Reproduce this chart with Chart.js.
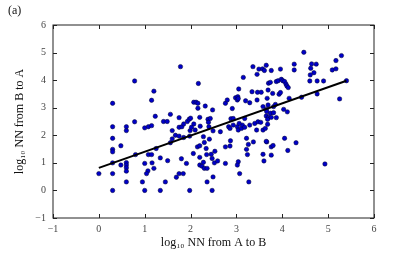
<!DOCTYPE html>
<html lang="en">
  <head>
    <meta charset="UTF-8" />
    <title>NN scatter</title>
    <script src="https://cdn.jsdelivr.net/npm/chart.js"></script>
    <style>
      body {
        margin: 0;
        background: #fff;
      }
      canvas {
        display: block;
      }
    </style>
  </head>
  <body>
    <canvas id="myChart" width="415" height="257"></canvas>

    <script>
      // log10 NN from A to B (x) and from B to A (y)
      const nnAtoB = [
        0.0, 0.3, 0.3, 0.3, 0.3, 0.3, 0.3, 0.3, 0.3, 0.48, 0.48, 0.6, 0.6, 0.6, 0.6, 0.6, 0.6, 0.6,
        0.78, 0.78, 0.8, 1.0, 1.08, 1.15, 1.0, 1.0, 0.95, 1.08, 1.15, 1.16, 1.07, 1.04, 1.2, 1.15,
        1.2, 1.23, 1.25, 1.34, 1.34, 1.41, 1.49, 1.45, 1.5, 1.56, 1.56, 1.6, 1.6, 1.67, 1.69, 1.75,
        1.84, 1.75, 1.75, 1.75, 1.78, 1.8, 1.81, 1.85, 1.85, 1.91, 1.93, 1.97, 2.0, 1.98, 1.99, 2.07,
        2.1, 2.02, 1.98, 2.07, 2.12, 2.16, 2.16, 2.17, 2.2, 2.21, 2.06, 2.2, 2.15, 2.2, 2.28, 2.41,
        2.2, 2.25, 2.3, 2.36, 2.28, 2.32, 2.36, 2.38, 2.43, 2.4, 2.39, 2.48, 2.35, 2.45, 2.53, 2.34,
        2.3, 2.47, 2.49, 2.47, 2.52, 2.59, 2.49, 2.65, 2.76, 2.76, 2.86, 2.87, 2.76, 2.8, 2.83, 2.86,
        2.93, 3.02, 3.04, 3.11, 3.13, 3.18, 2.88, 2.93, 2.91, 2.98, 3.03, 3.02, 3.04, 3.04, 3.02, 3.07,
        3.05, 3.06, 3.15, 3.18, 3.2, 3.29, 3.22, 3.24, 3.26, 3.37, 3.22, 3.27, 3.29, 3.4, 3.47, 3.53,
        3.36, 3.45, 3.49, 3.57, 3.61, 3.65, 3.34, 3.46, 3.54, 3.69, 3.45, 3.44, 3.58, 3.63, 3.58, 3.6,
        3.66, 3.58, 3.65, 3.67, 3.69, 3.66, 3.65, 3.7, 3.68, 3.68, 3.7, 3.74, 3.87, 3.91, 3.98, 4.01,
        4.05, 4.08, 4.1, 4.13, 3.76, 3.96, 3.79, 3.93, 3.96, 3.76, 3.87, 3.74, 3.81, 3.81, 3.85, 4.03,
        4.11, 4.15, 4.42, 4.76, 5.25, 3.65, 4.05, 4.3, 3.76, 3.8, 4.12, 3.76, 4.93, 4.26, 4.26, 4.47,
        5.29, 5.17, 4.64, 4.74, 4.62, 5.09, 5.17, 4.69, 4.61, 4.6, 4.76, 4.9, 5.4
      ];
      const nnBtoA = [
        0.61, 3.16, 2.31, 1.89, 1.49, 1.4, 1.0, 0.61, 0.0, 1.62, 0.92, 2.31, 2.17, 1.01, 0.92, 0.82, 0.7, 0.31,
        3.97, 2.49, 1.3, 2.27, 2.31, 2.35, 0.98, 0.0, 0.31, 1.3, 1.3, 1.0, 0.71, 0.61, 0.8, 3.27,
        3.6, 2.69, 1.52, 1.18, 0.0, 2.5, 2.5, 0.31, 1.08, 2.76, 1.73, 2.17, 1.87, 2.0, 0.48, 0.61,
        0.61, 2.64, 2.29, 1.97, 4.49, 1.15, 2.31, 2.41, 1.92, 0.98, 2.5, 2.58, 2.62, 1.97, 2.17, 2.41,
        2.19, 2.29, 0.0, 3.2, 3.2, 3.16, 2.98, 3.88, 2.65, 2.33, 1.34, 1.2, 1.58, 1.62, 1.95, 1.86,
        0.92, 0.88, 0.8, 0.8, 1.02, 3.06, 0.31, 2.58, 2.61, 2.31, 2.47, 2.92, 1.3, 1.31, 1.42, 1.52,
        1.74, 1.16, 0.49, 0.0, 1.0, 1.07, 2.16, 2.13, 0.98, 1.58, 1.61, 1.8, 3.16, 3.28, 2.31, 2.25,
        2.37, 2.31, 2.19, 2.25, 2.37, 2.29, 2.6, 2.61, 2.97, 3.36, 3.4, 3.28, 3.33, 1.04, 0.92, 0.61,
        3.68, 2.43, 4.1, 2.61, 3.25, 3.18, 1.49, 1.3, 1.67, 1.76, 1.89, 0.31, 2.37, 2.43, 2.49, 2.47,
        4.49, 4.21, 4.4, 4.41, 4.35, 4.54, 3.58, 3.56, 3.56, 3.64, 3.28, 2.19, 2.19, 2.25, 1.31, 1.07,
        1.76, 3.04, 2.94, 3.34, 3.1, 2.86, 2.7, 2.65, 2.58, 2.4, 3.89, 3.92, 3.95, 3.98, 4.03, 3.98,
        3.95, 3.86, 3.79, 3.73, 4.35, 4.4, 3.52, 3.49, 3.55, 2.65, 2.64, 2.8, 2.82, 3.04, 3.12, 2.94,
        2.85, 3.34, 3.38, 3.5, 3.32, 1.78, 1.89, 1.73, 1.58, 1.63, 1.45, 1.28, 0.96, 4.58, 4.37, 5.01,
        4.89, 4.71, 4.59, 4.58, 4.43, 4.37, 4.41, 4.27, 4.19, 3.97, 3.97, 3.97, 3.98
      ];

      // regression line end points
      const fitX = [0, 5.4];
      const fitY = [0.82, 3.98];

      const xTicks = [-1, 0, 1, 2, 3, 4, 5, 6];
      const yTicks = [-1, 0, 1, 2, 3, 4, 5, 6];

      const serif = "'Liberation Serif', 'DejaVu Serif', serif";
      const minus = (v) => String(v).replace("-", "\u2212");

      // box round the plot with inward ticks on all four sides, plus the panel letter
      const frameTicks = {
        id: "frameTicks",
        afterDatasetsDraw(chart) {
          const { ctx, chartArea: a, scales } = chart;
          const len = 4;
          ctx.save();
          ctx.strokeStyle = "#222";
          ctx.lineWidth = 1;
          ctx.strokeRect(a.left, a.top, a.right - a.left, a.bottom - a.top);
          ctx.beginPath();
          xTicks.forEach((v) => {
            const px = Math.round(scales.x.getPixelForValue(v)) + 0.5;
            ctx.moveTo(px, a.bottom);
            ctx.lineTo(px, a.bottom - len);
            ctx.moveTo(px, a.top);
            ctx.lineTo(px, a.top + len);
          });
          yTicks.forEach((v) => {
            const py = Math.round(scales.y.getPixelForValue(v)) + 0.5;
            ctx.moveTo(a.left, py);
            ctx.lineTo(a.left + len, py);
            ctx.moveTo(a.right, py);
            ctx.lineTo(a.right - len, py);
          });
          ctx.stroke();
          ctx.fillStyle = "#111";
          ctx.font = "12px " + serif;
          ctx.textBaseline = "middle";
          ctx.fillText("(a)", 8, 11);
          ctx.restore();
        },
      };

      const ctx = document.getElementById("myChart");
      new Chart(ctx, {
        type: "scatter",
        data: {
          datasets: [
            {
              type: "line",
              data: fitX.map((x, i) => ({ x: x, y: fitY[i] })),
              borderColor: "#000",
              borderWidth: 2,
              pointRadius: 0,
              fill: false,
            },
            {
              data: nnAtoB.map((x, i) => ({ x: x, y: nnBtoA[i] })),
              backgroundColor: "#0000c8",
              borderColor: "#000030",
              borderWidth: 0.5,
              pointRadius: 2.2,
            },
          ],
        },
        options: {
          responsive: false,
          animation: false,
          layout: { padding: { top: 25, right: 41, bottom: 0, left: 0 } },
          plugins: {
            legend: { display: false },
            tooltip: { enabled: false },
          },
          scales: {
            x: {
              type: "linear",
              min: -1,
              max: 6,
              afterBuildTicks: (s) => {
                s.ticks = xTicks.map((v) => ({ value: v }));
              },
              afterFit: (s) => {
                s.height = 39;
              },
              grid: { display: false, drawTicks: false },
              border: { display: false },
              ticks: {
                padding: 5,
                color: "#444",
                font: { family: serif, size: 10 },
                callback: (v) => minus(v),
              },
              title: {
                display: true,
                text: "log\u2081\u2080 NN from A to B",
                color: "#111",
                font: { family: serif, size: 12 },
                padding: { top: 0, bottom: 7 },
              },
            },
            y: {
              type: "linear",
              min: -1,
              max: 6,
              afterBuildTicks: (s) => {
                s.ticks = yTicks.map((v) => ({ value: v }));
              },
              afterFit: (s) => {
                s.width = 53;
              },
              grid: { display: false, drawTicks: false },
              border: { display: false },
              ticks: {
                padding: 7,
                color: "#444",
                font: { family: serif, size: 10 },
                callback: (v) => minus(v),
              },
              title: {
                display: true,
                text: "log\u2081\u2080 NN from B to A",
                color: "#111",
                font: { family: serif, size: 12 },
                padding: { top: 13, bottom: 0 },
              },
            },
          },
        },
        plugins: [frameTicks],
      });
    </script>
  </body>
</html>
